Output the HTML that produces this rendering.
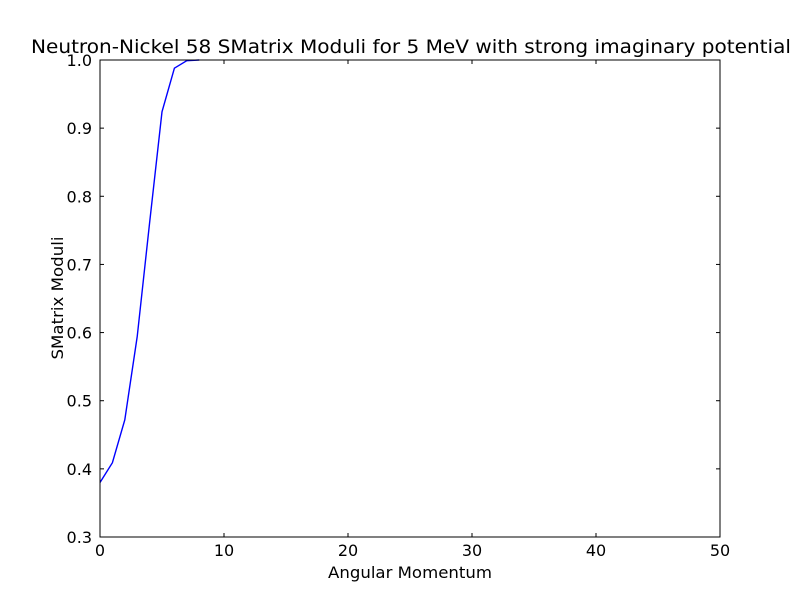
<!DOCTYPE html>
<html><head><meta charset="utf-8"><style>
body{margin:0;background:#fff;}
svg text{font-family:"DejaVu Sans","Liberation Sans",sans-serif;}
</style></head><body>
<svg id="chart" width="800" height="597" xmlns="http://www.w3.org/2000/svg">
<rect width="800" height="597" fill="#fff"/>
<text x="411" y="53" font-size="19" text-anchor="middle" textLength="760" lengthAdjust="spacingAndGlyphs">Neutron-Nickel 58 SMatrix Moduli for 5 MeV with strong imaginary potential</text>
<g id="ticks"></g>
<polyline id="series" fill="none" stroke="#0000ff" stroke-width="1.4"/>
<rect x="100" y="60" width="620" height="477" fill="none" stroke="#000" stroke-width="1"/>
<text x="410" y="578" font-size="16" text-anchor="middle" textLength="164" lengthAdjust="spacingAndGlyphs">Angular Momentum</text>
<text x="63" y="298" font-size="16" text-anchor="middle" textLength="123" lengthAdjust="spacingAndGlyphs" transform="rotate(-90 63 298)">SMatrix Moduli</text>
</svg>
<script>
const lValues=[0,1,2,3,4,5,6,7,8];
const moduli=[0.38,0.409,0.472,0.594,0.761,0.924,0.988,0.999,1.0];
const xTicks=[0,10,20,30,40,50];
const yTicks=[0.3,0.4,0.5,0.6,0.7,0.8,0.9,1.0];
const X0=100,X1=720,Y0=537,Y1=60;
const xs=v=>X0+(v-0)/(50-0)*(X1-X0);
const ys=v=>Y0-(v-0.3)/(1.0-0.3)*(Y0-Y1);
const NS="http://www.w3.org/2000/svg";
const g=document.getElementById('ticks');
function mk(t,a){const e=document.createElementNS(NS,t);for(const k in a)e.setAttribute(k,a[k]);return e;}
xTicks.forEach(v=>{
 const x=xs(v);
 const t1=mk('line',{x1:x,x2:x,y1:Y0,y2:Y0-4,stroke:'#000'});
 
 
 g.appendChild(t1);
 const t2=mk('line',{x1:x,x2:x,y1:Y1,y2:Y1+4,stroke:'#000'});
 
 
 g.appendChild(t2);
 const l=mk('text',{x:x,y:Y0+19,'font-size':16,'text-anchor':'middle'});
 l.textContent=v;
 
 
 g.appendChild(l);
});
yTicks.forEach(v=>{
 const y=ys(v);
 const t1=mk('line',{x1:X0,x2:X0+4,y1:y,y2:y,stroke:'#000'});
 
 
 g.appendChild(t1);
 const t2=mk('line',{x1:X1,x2:X1-4,y1:y,y2:y,stroke:'#000'});
 
 
 g.appendChild(t2);
 const l=mk('text',{x:X0-8,y:y+6,'font-size':16,'text-anchor':'end'});
 l.textContent=v.toFixed(1);
 
 
 g.appendChild(l);
});
document.getElementById('series').setAttribute('points',lValues.map((l,i)=>xs(l)+','+ys(moduli[i])).join(' '));
</script>
</body></html>
